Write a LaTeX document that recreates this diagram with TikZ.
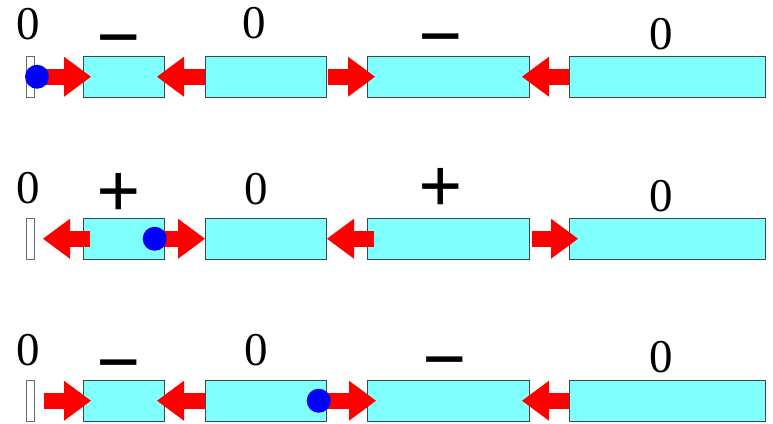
\documentclass[tikz,border=0pt]{standalone}
\usepackage{fontspec}
\setmainfont{Liberation Serif}
\usetikzlibrary{arrows.meta}
\definecolor{boxcyan}{HTML}{80FFFF}
\definecolor{boxline}{HTML}{3A4A4A}
\definecolor{dotblue}{HTML}{0000FF}
\tikzset{
  cell/.style={draw=boxline, fill=boxcyan, line width=0.8pt, inner sep=0pt, outer sep=0pt, minimum height=41pt},
  wall/.style={draw=boxline!80, fill=white, line width=0.8pt, inner sep=0pt, outer sep=0pt, minimum height=41pt, minimum width=8pt},
  blk/.style={draw=red, line width=16pt, -{Triangle[length=27pt, width=40pt, line width=0pt]}},
  dot/.style={circle, fill=dotblue, inner sep=0pt, minimum size=24pt},
  digit/.style={inner sep=0pt, anchor=base, font=\fontsize{47}{47}\selectfont},
  sign/.style={inner sep=0pt, anchor=base, font=\fontsize{78}{78}\selectfont\bfseries}
}
\begin{document}
\begin{tikzpicture}[x=1pt, y=-1pt]
\useasboundingbox (0,0) rectangle (773,423);
\foreach \r/\dy in {1/0, 2/162, 3/324} {
  \node[wall] (t\r) at (30, 76.75+\dy) {};
  \node[cell, minimum width=81pt]  (b\r1) at (123.5, 76.75+\dy) {};
  \node[cell, minimum width=121pt] (b\r2) at (265.5, 76.75+\dy) {};
  \node[cell, minimum width=162pt] (b\r3) at (448, 76.75+\dy) {};
  \node[cell, minimum width=196pt] (b\r4) at (667, 76.75+\dy) {};
}
\coordinate (c1) at (37, 76.75);
\coordinate (c2) at (154.7, 238.75);
\coordinate (c3) at (318.7, 400.75);
% row 1
\draw[blk] (c1) -- ([xshift=8pt]b11.west);
\draw[blk] (b12.west) -- ([xshift=-7pt]b11.east);
\draw[blk] ([xshift=2pt]b12.east) -- ([xshift=8pt]b13.west);
\draw[blk] (b14.west) -- ([xshift=-7pt]b13.east);
% row 2
\draw[blk] ([xshift=7pt]b21.west) -- ([xshift=9pt]t2.east);
\draw[blk] (c2) -- (b22.west);
\draw[blk] ([xshift=7pt]b23.west) -- ([xshift=1pt]b22.east);
\draw[blk] ([xshift=3pt]b23.east) -- ([xshift=9pt]b24.west);
% row 3
\draw[blk] ([xshift=10pt]t3.east) -- ([xshift=8pt]b31.west);
\draw[blk] (b32.west) -- ([xshift=-7pt]b31.east);
\draw[blk] (c3) -- ([xshift=9pt]b33.west);
\draw[blk] (b34.west) -- ([xshift=-7pt]b33.east);
% dots
\node[dot] (d1) at (c1) {};
\node[dot] (d2) at (c2) {};
\node[dot] (d3) at (c3) {};
% labels row 1
\node[digit] (l10) at (28.5, 39) {0};
\node[sign]  (l11) at (118.5, 63.5) {−};
\node[digit] (l12) at (254.5, 38.5) {0};
\node[sign]  (l13) at (441, 62.5) {−};
\node[digit] (l14) at (661.5, 49.5) {0};
% labels row 2
\node[digit] (l20) at (28.5, 203) {0};
\node[sign]  (l21) at (118.5, 217) {+};
\node[digit] (l22) at (256, 204) {0};
\node[sign]  (l23) at (441, 212) {+};
\node[digit] (l24) at (661.5, 211.5) {0};
% labels row 3
\node[digit] (l30) at (28.5, 365) {0};
\node[sign]  (l31) at (118.5, 388.5) {−};
\node[digit] (l32) at (256, 365) {0};
\node[sign]  (l33) at (445, 385.5) {−};
\node[digit] (l34) at (661.5, 372.5) {0};
\end{tikzpicture}
\end{document}
